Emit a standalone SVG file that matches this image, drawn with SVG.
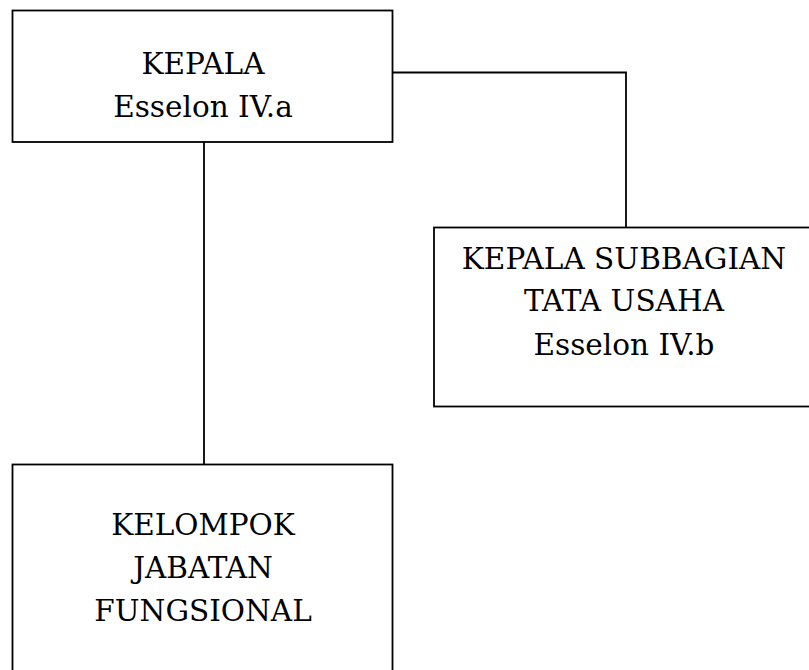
<svg xmlns="http://www.w3.org/2000/svg" width="809" height="670" viewBox="0 0 809 670">
<style>
.box{fill:#fff;stroke:#000;stroke-width:1.8}
.ln{fill:none;stroke:#000;stroke-width:1.8}
text{font-family:"DejaVu Serif","Liberation Serif",serif;font-size:29.5px;fill:#000;text-anchor:middle}
</style>
<rect width="809" height="670" fill="#fff"/>
<g id="connectors">
<path class="ln" d="M204 142 V465"/>
<path class="ln" d="M393 72.5 H626 V228"/>
</g>
<g id="kepala">
<rect class="box" x="12.5" y="10.5" width="380" height="131.5"/>
<text x="203" y="73.5">KEPALA</text>
<text x="203" y="117">Esselon IV.a</text>
</g>
<g id="subbagian">
<rect class="box" x="434" y="227.5" width="390" height="179"/>
<text x="624" y="268.5">KEPALA SUBBAGIAN</text>
<text x="624" y="311">TATA USAHA</text>
<text x="624" y="355">Esselon IV.b</text>
</g>
<g id="fungsional">
<rect class="box" x="12.5" y="464.5" width="380" height="220"/>
<text x="203" y="535">KELOMPOK</text>
<text x="203" y="577.5">JABATAN</text>
<text x="203" y="621">FUNGSIONAL</text>
</g>
</svg>
